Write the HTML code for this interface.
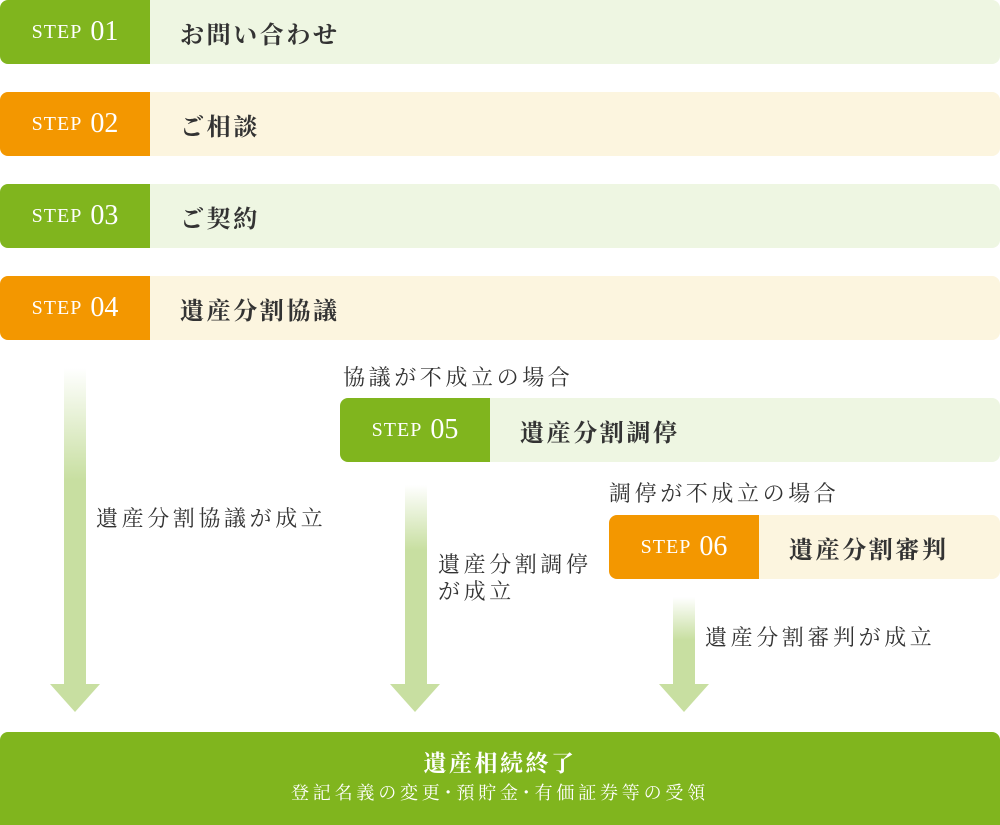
<!DOCTYPE html>
<html><head><meta charset="utf-8"><style>
*{margin:0;padding:0;box-sizing:border-box}
body{width:1000px;height:825px;background:#fff;position:relative;overflow:hidden;font-family:"Liberation Serif","Noto Serif CJK SC",serif;color:#333}
.row{position:absolute;height:64px;border-radius:8px;overflow:hidden;display:flex}
.tag{width:150px;height:64px;color:#fff;display:flex;align-items:center;justify-content:center;font-size:28px;letter-spacing:0}
.tag small{font-size:20px;margin-right:8px;letter-spacing:1px}
.lbl{flex:1;display:flex;align-items:center;padding-left:30px;font-size:24px;font-weight:bold;letter-spacing:2.6px}
.g .tag{background:#80b51e}.g .lbl{background:#eef6e2}
.o .tag{background:#f39700}.o .lbl{background:#fcf5df}
.t{position:absolute;font-size:22px;letter-spacing:3.6px;line-height:27px;white-space:nowrap}
.sh{position:absolute;width:22px;background:linear-gradient(#fff,#c8dfa1)}
.sh2{position:absolute;width:22px;background:#c8dfa1}
.hd{position:absolute;width:0;height:0;border-left:25px solid transparent;border-right:25px solid transparent;border-top:28px solid #c8dfa1}
</style></head><body>
<div class="row g" style="left:0;top:0;width:1000px"><div class="tag"><small>STEP</small>01</div><div class="lbl">お問い合わせ</div></div>
<div class="row o" style="left:0;top:92px;width:1000px"><div class="tag"><small>STEP</small>02</div><div class="lbl">ご相談</div></div>
<div class="row g" style="left:0;top:184px;width:1000px"><div class="tag"><small>STEP</small>03</div><div class="lbl">ご契約</div></div>
<div class="row o" style="left:0;top:276px;width:1000px"><div class="tag"><small>STEP</small>04</div><div class="lbl">遺産分割協議</div></div>

<div class="t" style="left:343px;top:364px">協議が不成立の場合</div>
<div class="row g" style="left:340px;top:398px;width:660px"><div class="tag"><small>STEP</small>05</div><div class="lbl">遺産分割調停</div></div>
<div class="t" style="left:609px;top:480px">調停が不成立の場合</div>
<div class="row o" style="left:609px;top:515px;width:391px"><div class="tag"><small>STEP</small>06</div><div class="lbl">遺産分割審判</div></div>

<div class="sh" style="left:64px;top:368px;height:112px"></div>
<div class="sh2" style="left:64px;top:480px;height:205px"></div>
<div class="hd" style="left:50px;top:684px"></div>
<div class="t" style="left:96px;top:505px">遺産分割協議が成立</div>

<div class="sh" style="left:405px;top:485px;height:65px"></div>
<div class="sh2" style="left:405px;top:550px;height:135px"></div>
<div class="hd" style="left:390px;top:684px"></div>
<div class="t" style="left:438px;top:551px">遺産分割調停<br>が成立</div>

<div class="sh" style="left:673px;top:597px;height:43px"></div>
<div class="sh2" style="left:673px;top:640px;height:45px"></div>
<div class="hd" style="left:659px;top:684px"></div>
<div class="t" style="left:705px;top:624px">遺産分割審判が成立</div>

<div style="position:absolute;left:0;top:732px;width:1000px;height:93px;background:#80b51e;border-radius:8px 8px 0 0;color:#fff;text-align:center">
<div style="font-size:23px;font-weight:bold;letter-spacing:2.5px;margin-top:18px;line-height:28px">遺産相続終了</div>
<div style="font-size:18px;letter-spacing:3.8px;line-height:24px;margin-top:3px">登記名義の変更･預貯金･有価証券等の受領</div>
</div>
</body></html>
